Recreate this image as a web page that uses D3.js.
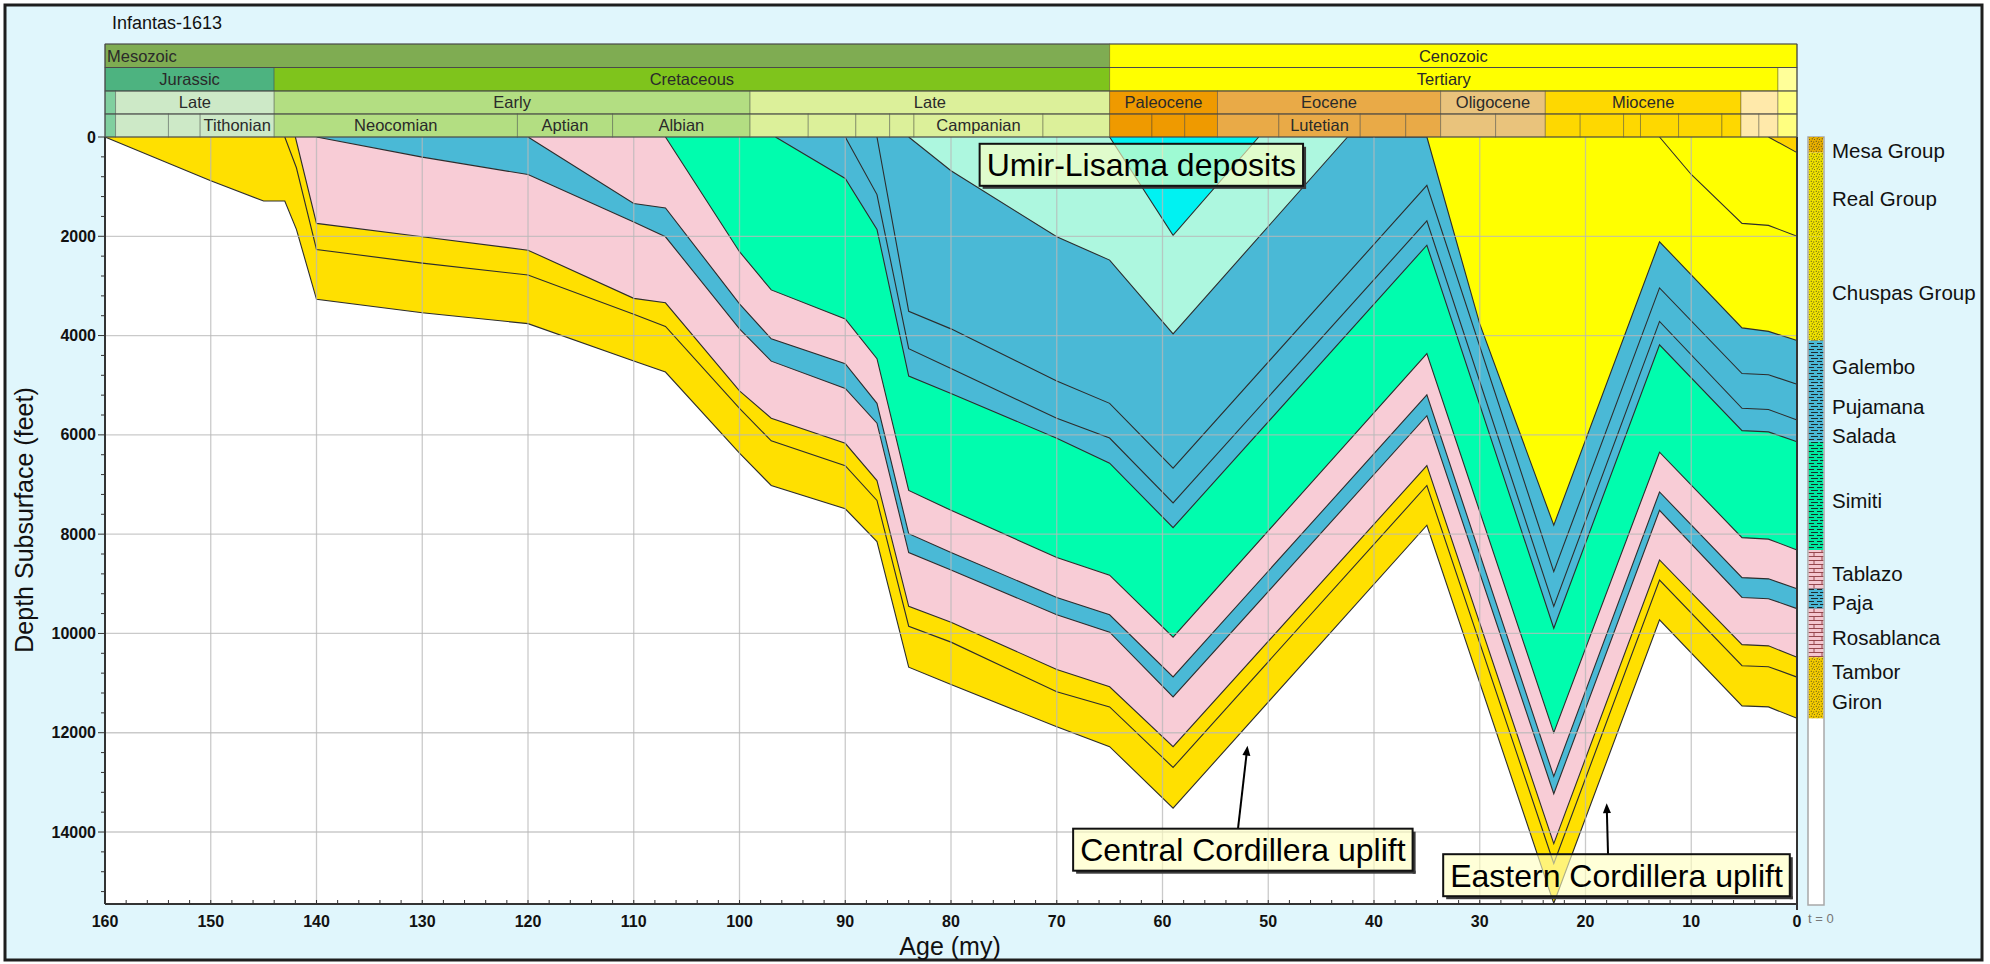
<!DOCTYPE html>
<html>
<head>
<meta charset="utf-8">
<script src="https://cdnjs.cloudflare.com/ajax/libs/d3/7.8.5/d3.min.js"></script>
<style>
  body { margin: 0; background: #fff; }
  svg text { font-family: "Liberation Sans", Arial, sans-serif; }
</style>
</head>
<body>
<svg id="chart" width="1990" height="964"></svg>
<script>
// horizon depths through time: [age my, depth ft]
var baseGiron = [[160,0],[150,880],[145,1290],[143,1290],[141.9,1860],[140,3270],[130,3540],[120,3760],[110,4510],[107,4735],[100,6370],[97,7020],[90,7490],[87,8150],[84,10680],[80,11030],[70,11880],[65,12280],[59,13520],[35,7820],[23,15436],[13,9725],[5.2,11460],[2.7,11480],[0,11710]]
var baseTambor = [[143,0],[141.9,620],[140,2265],[130,2540],[120,2780],[110,3570],[107,3815],[100,5465],[97,6120],[90,6620],[87,7320],[84,9855],[80,10175],[70,11175],[65,11480],[59,12700],[35,7020],[23,14635],[13,8925],[5.2,10650],[2.7,10670],[0,10880]]
var baseRosablanca = [[142,0],[140,1740],[130,2010],[120,2280],[110,3250],[107,3340],[100,5115],[97,5665],[90,6170],[87,6920],[84,9455],[80,9775],[70,10725],[65,11075],[59,12280],[35,6620],[23,14235],[13,8520],[5.2,10225],[2.7,10250],[0,10480]]
var basePaja = [[140,0],[130,405],[120,757],[110,1710],[107,2010],[100,3865],[97,4515],[90,5065],[87,5765],[84,8370],[80,8720],[70,9625],[65,9975],[59,11280],[35,5615],[23,13230],[13,7520],[5.2,9275],[2.7,9300],[0,9500]]
var baseTablazo = [[120,0],[110,1340],[107,1430],[100,3360],[97,4065],[90,4565],[87,5365],[84,7990],[80,8370],[70,9275],[65,9625],[59,10875],[35,5195],[23,12880],[13,7150],[5.2,8875],[2.7,8900],[0,9100]]
var baseSimiti = [[107,0],[100,2310],[97,3080],[90,3665],[87,4465],[84,7120],[80,7520],[70,8470],[65,8825],[59,10075],[35,4365],[23,12000],[13,6350],[5.2,8070],[2.7,8100],[0,8320]]
var baseSalada = [[96.6,0],[90,835],[87,1860],[84,4815],[80,5165],[70,6070],[65,6570],[59,7870],[35,2180],[23,9895],[13,4185],[5.2,5915],[2.7,5940],[0,6140]]
var basePujamana = [[90,0],[87,1160],[84,4265],[80,4665],[70,5665],[65,6065],[59,7370],[35,1690],[23,9455],[13,3715],[5.2,5465],[2.7,5490],[0,5700]]
var baseGalembo = [[87,0],[84,3510],[80,3865],[70,4915],[65,5365],[59,6670],[35,975],[23,8755],[13,3040],[5.2,4765],[2.7,4790],[0,4980]]
var baseUmir = [[84,0],[80,680],[70,2010],[65,2480],[59,3965],[42.5,0],[35,0]]
var baseLisama = [[65,0],[59,1980],[50.9,0]]
var baseChuspas = [[35,0],[30,3765],[23,7820],[13,2110],[5.2,3845],[2.7,3915],[0,4100]]
var baseReal = [[13,0],[10,755],[5.2,1740],[2.7,1780],[0,2000]]
var baseMesa = [[2.7,0],[0,315]]

// deepest first; the column on the right lists the ones still present
var formations = [
  {name: 'Giron', base: baseGiron},
  {name: 'Tambor', base: baseTambor},
  {name: 'Rosablanca', base: baseRosablanca},
  {name: 'Paja', base: basePaja},
  {name: 'Tablazo', base: baseTablazo},
  {name: 'Simiti', base: baseSimiti},
  {name: 'Salada', base: baseSalada},
  {name: 'Pujamana', base: basePujamana},
  {name: 'Galembo', base: baseGalembo},
  {name: 'Umir', base: baseUmir, eroded: true},
  {name: 'Lisama', base: baseLisama, eroded: true},
  {name: 'Chuspas Group', base: baseChuspas},
  {name: 'Real Group', base: baseReal},
  {name: 'Mesa Group', base: baseMesa}
]

// geologic time scale rows: [label, from, to, unit]
var eras = [['Mesozoic',160,65,'Mesozoic'],['Cenozoic',65,0,'Cenozoic']]
var periods = [['Jurassic',160,144,'Jurassic'],['Cretaceous',144,65,'Cretaceous'],['Tertiary',65,1.8,'Tertiary'],['',1.8,0,'Quaternary']]
var epochs = [['',160,159,'MidJ'],['Late',159,144,'LateJ'],['Early',144,99,'EarlyK'],['Late',99,65,'LateK'],
  ['Paleocene',65,54.8,'Paleocene'],['Eocene',54.8,33.7,'Eocene'],['Oligocene',33.7,23.8,'Oligocene'],
  ['Miocene',23.8,5.3,'Miocene'],['',5.3,1.8,'Pliocene'],['',1.8,0,'Pleistocene']]
var stages = [['',160,159,'MidJ'],['',159,154,'LateJ'],['',154,151,'LateJ'],['Tithonian',151,144,'LateJ'],
  ['Neocomian',144,121,'EarlyK'],['Aptian',121,112,'EarlyK'],['Albian',112,99,'EarlyK'],
  ['',99,93.5,'LateK'],['',93.5,89,'LateK'],['',89,85.8,'LateK'],['',85.8,83.5,'LateK'],['Campanian',83.5,71.3,'LateK'],['',71.3,65,'LateK'],
  ['',65,61,'Paleocene'],['',61,57.9,'Paleocene'],['',57.9,54.8,'Paleocene'],
  ['',54.8,49,'Eocene'],['Lutetian',49,41.3,'Eocene'],['',41.3,37,'Eocene'],['',37,33.7,'Eocene'],
  ['',33.7,28.5,'Oligocene'],['',28.5,23.8,'Oligocene'],
  ['',23.8,20.5,'Miocene'],['',20.5,16.4,'Miocene'],['',16.4,14.8,'Miocene'],['',14.8,11.2,'Miocene'],['',11.2,7.1,'Miocene'],['',7.1,5.3,'Miocene'],
  ['',5.3,3.6,'Pliocene'],['',3.6,1.8,'Pliocene'],['',1.8,0,'Pleistocene']]

var ageTicks = d3.range(160, -1, -10)
var depthTicks = d3.range(0, 14001, 2000)

var notes = [
  {text: 'Umir-Lisama deposits', age: 62.0, depth: 560},
  {text: 'Central Cordillera uplift', age: 52.4, depth: 14356, from: 52.86, tip: [51.96, 12260]},
  {text: 'Eastern Cordillera uplift', age: 17.07, depth: 14870, from: 17.87, tip: [18.0, 13420]}
]

// ---- styles
var unitColor = {
  Mesozoic: '#7fac52', Cenozoic: '#ffff00', Jurassic: '#4db380', Cretaceous: '#7fc41c',
  Tertiary: '#ffff00', Quaternary: '#ffff99', MidJ: '#80cf9f', LateJ: '#cde9c7',
  EarlyK: '#b3de82', LateK: '#dcf09a', Paleocene: '#ef9a00', Eocene: '#e9aa47',
  Oligocene: '#e9c37c', Miocene: '#fed800', Pliocene: '#ffe9aa', Pleistocene: '#ffff80'
}
var fillColor = {
  Giron: '#ffe000', Tambor: '#ffe000', Rosablanca: '#f8ccd6', Paja: '#4ab9d6', Tablazo: '#f8ccd6',
  Simiti: '#00fdae', Salada: '#4ab9d6', Pujamana: '#4ab9d6', Galembo: '#4ab9d6',
  Umir: '#adf7df', Lisama: '#00f2f2', 'Chuspas Group': '#ffff00', 'Real Group': '#ffff00', 'Mesa Group': '#ffd200'
}
var lith = {
  Giron: ['sand', '#f5cc00'], Tambor: ['sand', '#f5cc00'], Rosablanca: ['lime', '#f4c6cf'], Paja: ['shale', '#4ab9d6'],
  Tablazo: ['lime', '#f4c6cf'], Simiti: ['shale', '#00e8a0'], Salada: ['shale', '#4ab9d6'], Pujamana: ['shale', '#4ab9d6'],
  Galembo: ['shale', '#4ab9d6'], 'Chuspas Group': ['sand', '#efe200'], 'Real Group': ['sand', '#efe200'], 'Mesa Group': ['sand', '#e9b000']
}

var pL = 105, pR = 1797, pT = 137, pB = 904
var x = d3.scaleLinear().domain([160, 0]).range([pL, pR])
var y = d3.scaleLinear().domain([0, 15450]).range([pT, pB])
var line = d3.line().x(d => x(d[0])).y(d => y(d[1]))

var svg = d3.select('#chart')
var defs = svg.append('defs')

svg.append('rect').attr('x', 5).attr('y', 5).attr('width', 1977).attr('height', 955)
  .attr('fill', '#e0f6fc').attr('stroke', '#1e1e1e').attr('stroke-width', 3)

svg.append('text').attr('x', 112).attr('y', 29).attr('font-size', 18).attr('fill', '#111').text('Infantas-1613')

// ---- plot
svg.append('rect').attr('x', pL).attr('y', pT).attr('width', pR - pL).attr('height', pB - pT).attr('fill', '#fff')

var plot = svg.append('g')
formations.forEach(f => {
  var pts = f.base, a = pts[0], b = pts[pts.length - 1]
  plot.append('path')
    .attr('d', line(pts.concat([[b[0], 0], [a[0], 0]])) + 'Z')
    .attr('fill', fillColor[f.name])
})
formations.forEach(f => {
  plot.append('path').attr('d', line(f.base))
    .attr('fill', 'none').attr('stroke', '#2d2d2d').attr('stroke-width', 1.1)
})

// grid drawn over the fills, as in the original
var grid = svg.append('g').attr('stroke', '#b8b8b8').attr('stroke-opacity', 0.75).attr('stroke-width', 1.3)
ageTicks.filter(d => d > 0 && d < 160).forEach(d => {
  grid.append('line').attr('x1', x(d)).attr('x2', x(d)).attr('y1', pT).attr('y2', pB)
})
depthTicks.filter(d => d > 0).forEach(d => {
  grid.append('line').attr('x1', pL).attr('x2', pR).attr('y1', y(d)).attr('y2', y(d))
})

// ---- axes
var ax = svg.append('g').attr('stroke', '#333')
ax.append('line').attr('x1', pL).attr('x2', pR).attr('y1', pB).attr('y2', pB).attr('stroke-width', 2)
ax.append('line').attr('x1', pL).attr('x2', pL).attr('y1', pT).attr('y2', pB).attr('stroke-width', 2)
ax.append('line').attr('x1', pR).attr('x2', pR).attr('y1', pT).attr('y2', pB + 6).attr('stroke-width', 2)
d3.range(160, -1, -2).forEach(d => {
  ax.append('line').attr('x1', x(d)).attr('x2', x(d)).attr('y1', pB).attr('y2', pB - 4)
})
d3.range(0, 15450, 400).forEach(d => {
  var major = d % 2000 === 0
  ax.append('line').attr('x1', pL - (major ? 7 : 4)).attr('x2', pL).attr('y1', y(d)).attr('y2', y(d))
})

svg.append('g').selectAll('text').data(ageTicks).join('text')
  .attr('x', d => x(d)).attr('y', 927).attr('text-anchor', 'middle')
  .attr('font-size', 16).attr('font-weight', 'bold').attr('fill', '#111').text(d => d)
svg.append('g').selectAll('text').data(depthTicks).join('text')
  .attr('x', 96).attr('y', d => y(d)).attr('dy', '0.35em').attr('text-anchor', 'end')
  .attr('font-size', 16).attr('font-weight', 'bold').attr('fill', '#111').text(d => d)

svg.append('text').attr('x', 950).attr('y', 955).attr('text-anchor', 'middle')
  .attr('font-size', 25).attr('fill', '#111').text('Age (my)')
svg.append('text').attr('transform', 'translate(33,520) rotate(-90)').attr('text-anchor', 'middle')
  .attr('font-size', 25).attr('fill', '#111').text('Depth Subsurface (feet)')
svg.append('text').attr('x', 1808).attr('y', 923).attr('font-size', 13).attr('fill', '#777').text('t = 0')

// ---- time scale header
var rowY = [44, 67.5, 91, 114, pT]
;[eras, periods, epochs, stages].forEach((row, i) => {
  var g = svg.append('g')
  row.forEach(c => {
    g.append('rect').attr('x', x(c[1])).attr('y', rowY[i])
      .attr('width', x(c[2]) - x(c[1])).attr('height', rowY[i + 1] - rowY[i])
      .attr('fill', unitColor[c[3]]).attr('stroke', 'rgba(40,40,40,0.35)').attr('stroke-width', 1)
  })
  row.filter(c => c[0]).forEach(c => {
    var startAligned = c[0] === 'Mesozoic'
    g.append('text')
      .attr('x', startAligned ? x(c[1]) + 2 : (x(c[1]) + x(c[2])) / 2)
      .attr('y', (rowY[i] + rowY[i + 1]) / 2).attr('dy', '0.36em')
      .attr('text-anchor', startAligned ? 'start' : 'middle')
      .attr('font-size', 16.5).attr('fill', '#2a2a2a').text(c[0])
  })
})
var hdr = svg.append('g').attr('stroke', '#4a4a4a').attr('stroke-width', 1.2)
rowY.forEach(v => hdr.append('line').attr('x1', pL).attr('x2', pR).attr('y1', v).attr('y2', v))
hdr.append('line').attr('x1', pL).attr('x2', pL).attr('y1', rowY[0]).attr('y2', pT)
hdr.append('line').attr('x1', pR).attr('x2', pR).attr('y1', rowY[0]).attr('y2', pT)

// ---- lithology column at t = 0
function pattern(id, kind, color) {
  var p
  if (kind === 'sand') {
    p = defs.append('pattern').attr('id', id).attr('patternUnits', 'userSpaceOnUse').attr('width', 5).attr('height', 5)
    p.append('rect').attr('width', 5).attr('height', 5).attr('fill', color)
    ;[[0.8, 0.8], [3.3, 1.6], [1.8, 3.4], [4.3, 4.2]].forEach(q =>
      p.append('rect').attr('x', q[0]).attr('y', q[1]).attr('width', 0.9).attr('height', 0.9).attr('fill', '#222'))
  } else if (kind === 'shale') {
    p = defs.append('pattern').attr('id', id).attr('patternUnits', 'userSpaceOnUse').attr('width', 16).attr('height', 6)
    p.append('rect').attr('width', 16).attr('height', 6).attr('fill', color)
    p.append('path').attr('d', 'M0,1.5h6M9,1.5h5M3,4.5h7M12,4.5h4M0,0v6').attr('stroke', '#1a1a1a').attr('stroke-width', 0.9)
  } else {
    p = defs.append('pattern').attr('id', id).attr('patternUnits', 'userSpaceOnUse').attr('width', 16).attr('height', 8)
    p.append('rect').attr('width', 16).attr('height', 8).attr('fill', color)
    p.append('path').attr('d', 'M0,0.5h16M0,4.5h16M6,0.5v4M14,4.5v4').attr('stroke', '#8c3a40').attr('stroke-width', 0.9)
  }
}

var colX = 1808, colW = 16
var kept = formations.filter(f => !f.eroded).reverse()
var col = svg.append('g')
col.append('rect').attr('x', colX).attr('y', pT).attr('width', colW).attr('height', pB - pT + 1)
  .attr('fill', '#fff').attr('stroke', '#a8a8a8').attr('stroke-width', 1.5)
var prevLabel = -Infinity
kept.forEach((f, i) => {
  var b = f.base[f.base.length - 1][1]
  var t = i === 0 ? 0 : kept[i - 1].base[kept[i - 1].base.length - 1][1]
  var id = 'lith' + i
  pattern(id, lith[f.name][0], lith[f.name][1])
  col.append('rect').attr('x', colX + 0.75).attr('y', y(t)).attr('width', colW - 1.5).attr('height', y(b) - y(t))
    .attr('fill', 'url(#' + id + ')')
  var ly = Math.max(y((t + b) / 2) + 4.5, prevLabel + 26, pT + 14)
  prevLabel = ly
  col.append('text').attr('x', 1832).attr('y', ly).attr('dy', '0.35em')
    .attr('font-size', 20.5).attr('fill', '#111').text(f.name)
})

// ---- annotations
var ann = svg.append('g')
notes.forEach(n => {
  var cx = x(n.age), cy = y(n.depth)
  var t = ann.append('text').attr('x', cx).attr('y', cy + 11.5).attr('text-anchor', 'middle')
    .attr('font-size', 32).attr('fill', '#000').text(n.text)
  var w = t.node().getComputedTextLength() + 14, h = 42
  var x0 = cx - w / 2, y0 = cy - h / 2
  if (n.tip) {
    var ex = x(n.tip[0]), ey = y(n.tip[1]), sx = x(n.from)
    var ang = Math.atan2(ey - y0, ex - sx)
    ann.insert('line', 'text').attr('x1', sx).attr('y1', y0).attr('x2', ex - 7 * Math.cos(ang)).attr('y2', ey - 7 * Math.sin(ang))
      .attr('stroke', '#000').attr('stroke-width', 2)
    var hx = Math.cos(ang), hy = Math.sin(ang)
    ann.insert('path', 'text').attr('d', 'M' + ex + ',' + ey +
      'L' + (ex - 10 * hx - 4 * hy) + ',' + (ey - 10 * hy + 4 * hx) +
      'L' + (ex - 10 * hx + 4 * hy) + ',' + (ey - 10 * hy - 4 * hx) + 'Z').attr('fill', '#000')
  }
  ann.insert('rect', 'text').attr('x', x0 + w).attr('y', y0 + 3).attr('width', 3).attr('height', h).attr('fill', '#3a3a3a')
  ann.insert('rect', 'text').attr('x', x0 + 3).attr('y', y0 + h).attr('width', w).attr('height', 3).attr('fill', '#3a3a3a')
  ann.insert('rect', 'text').attr('x', x0).attr('y', y0).attr('width', w).attr('height', h)
    .attr('fill', '#ffffc0').attr('fill-opacity', 0.62).attr('stroke', '#111').attr('stroke-width', 2)
})
</script>
</body>
</html>
